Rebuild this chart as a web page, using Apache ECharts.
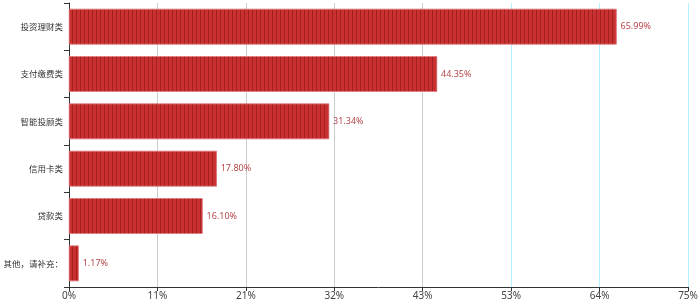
<!DOCTYPE html>
<html>
<head>
<meta charset="utf-8">
<script src="https://cdn.jsdelivr.net/npm/echarts@6/dist/echarts.min.js"></script>
<style>
  html, body { margin: 0; padding: 0; background: #fff; }
  #main { width: 700px; height: 302px; }
</style>
</head>
<body>
<div id="main"></div>
<script>
// categories from bottom to top (category axis on y draws first item at bottom)
const categories = ['其他，请补充：', '贷款类', '信用卡类', '智能投顾类', '支付缴费类', '投资理财类']
const values = [1.17, 16.10, 17.80, 31.34, 44.35, 65.99]
const axisMax = 74.6

const chart = echarts.init(document.getElementById('main'))
chart.setOption({
  animation: false,
  aria: { enabled: true, decal: { show: true } },
  grid: { left: 69, right: 12, top: 3, bottom: 15, containLabel: false, outerBoundsMode: 'none' },
  xAxis: {
    type: 'value',
    min: 0,
    max: axisMax,
    interval: axisMax / 7,
    axisLine: { show: true, lineStyle: { color: '#333' } },
    axisTick: { show: true, length: 4, lineStyle: { color: '#333' } },
    axisLabel: {
      color: '#444', fontSize: 10, margin: 4,
      fontFamily: 'Noto Sans',
      formatter: v => Math.round(v) + '%'
    },
    splitLine: {
      show: true,
      lineStyle: { color: ['#ccc', '#ccc', '#ccc', '#ccc', '#ccc', '#b0f2ff', '#b0f2ff', '#b0f2ff'] }
    }
  },
  yAxis: {
    type: 'category',
    data: categories,
    axisLine: { show: true, lineStyle: { color: '#333' } },
    axisTick: { show: true, length: 5, lineStyle: { color: '#333' } },
    axisLabel: { color: '#333', fontSize: 8.5, margin: 6, fontFamily: 'Noto Sans CJK SC' }
  },
  series: [
    {
      type: 'bar',
      data: values,
      barWidth: '75%',
      itemStyle: {
        color: '#c9302f',
        borderColor: '#e07a80',
        borderWidth: 0.5,
        decal: {
          symbol: 'rect',
          symbolSize: 1,
          dashArrayX: [1, 2.4],
          dashArrayY: [5, 0],
          color: 'rgba(90,10,10,0.35)',
          rotation: 0
        }
      },
      label: {
        show: true,
        position: 'right',
        distance: 4,
        color: '#b6474b',
        fontSize: 9,
        fontFamily: 'Noto Sans',
        formatter: p => p.value.toFixed(2) + '%'
      }
    }
  ]
})
</script>
</body>
</html>
